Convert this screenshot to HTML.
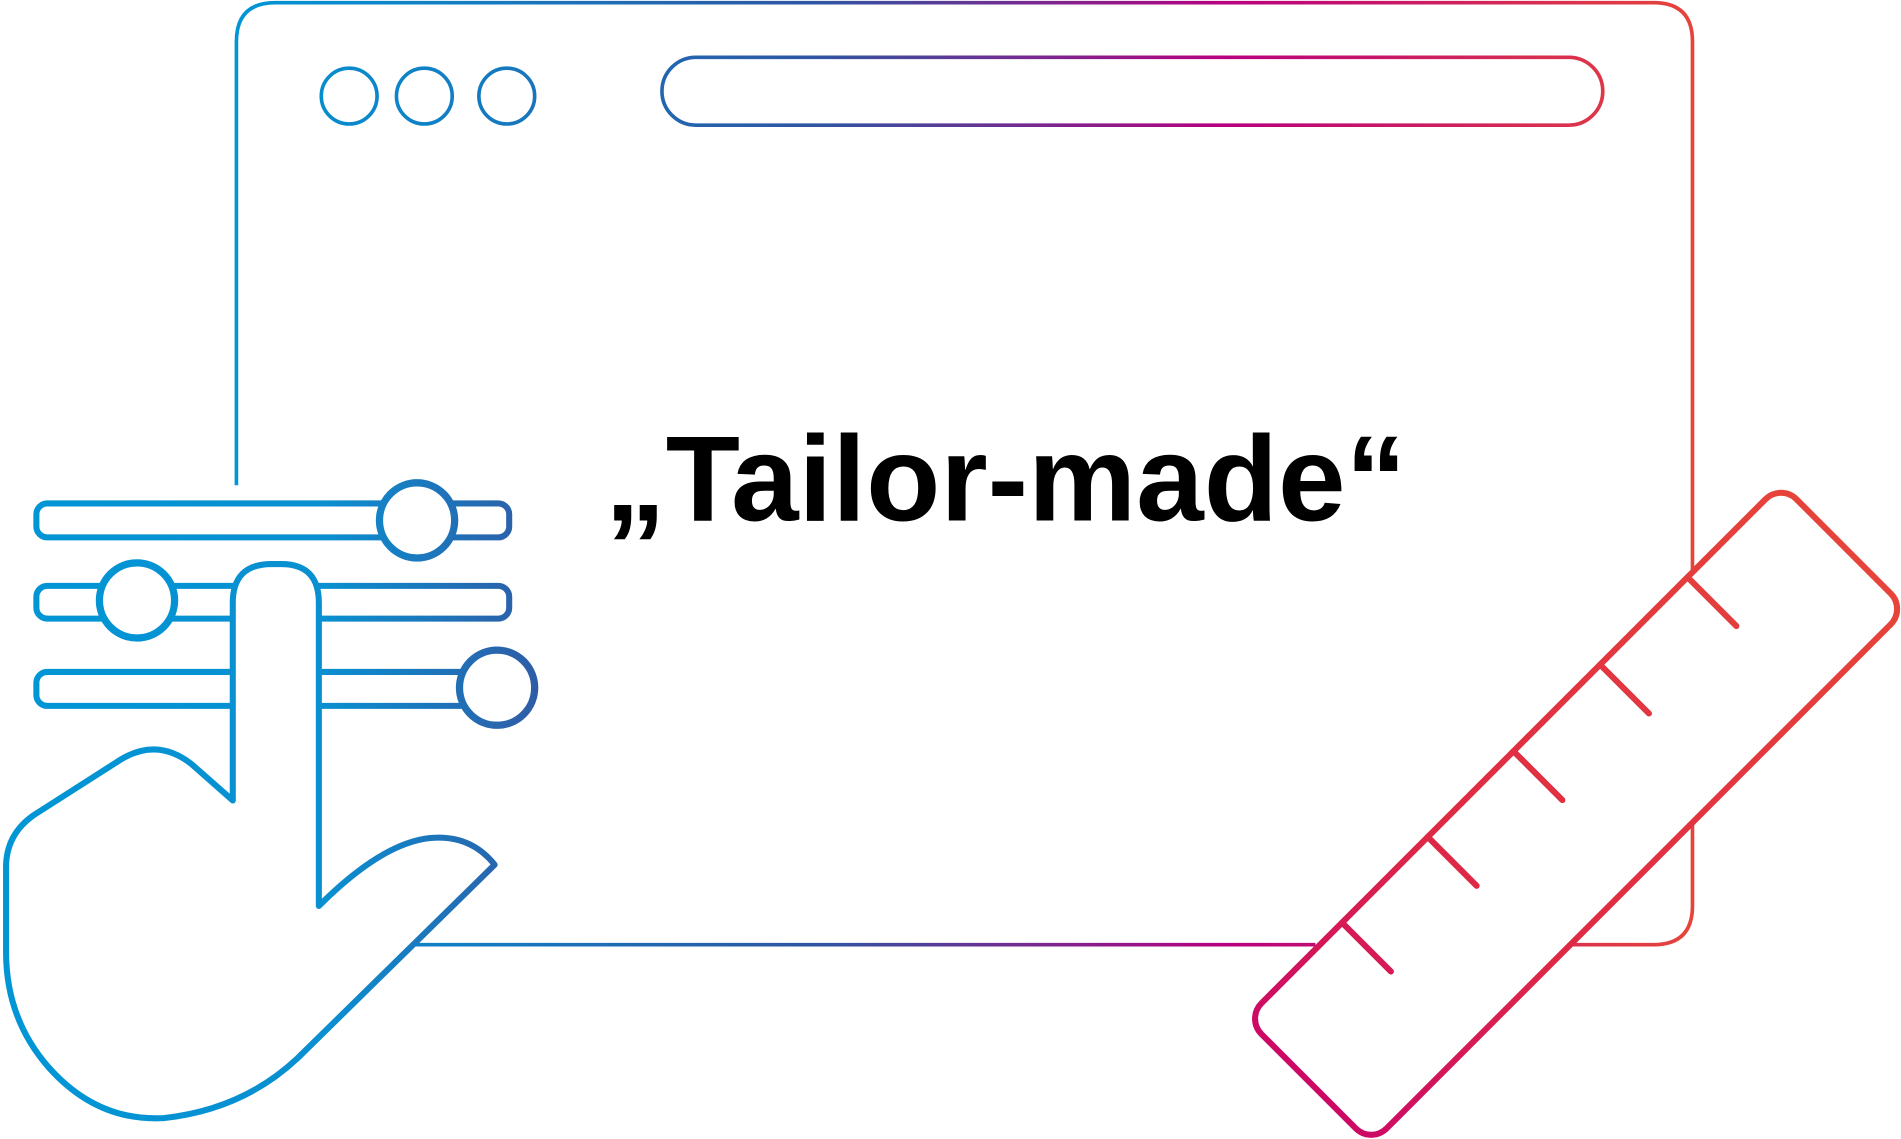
<!DOCTYPE html>
<html><head><meta charset="utf-8"><style>
html,body{margin:0;padding:0;background:#fff;}
svg{display:block;}
</style></head><body>
<svg width="1901" height="1139" viewBox="0 0 1568 939" xmlns="http://www.w3.org/2000/svg">
<defs>
<linearGradient id="g1" gradientUnits="userSpaceOnUse" x1="195" y1="0" x2="1396" y2="0">
<stop offset="0" stop-color="#0096d6"/><stop offset="0.4" stop-color="#2f55a2"/><stop offset="0.68" stop-color="#b8007f"/><stop offset="1" stop-color="#e6443a"/>
</linearGradient>
<linearGradient id="g2" gradientUnits="userSpaceOnUse" x1="5" y1="0" x2="445" y2="0">
<stop offset="0" stop-color="#0096d6"/><stop offset="0.6" stop-color="#0a8fd0"/><stop offset="1" stop-color="#2f5ca6"/>
</linearGradient>
<linearGradient id="g3" gradientUnits="userSpaceOnUse" x1="-312" y1="0" x2="312" y2="0">
<stop offset="0" stop-color="#cc0a66"/><stop offset="0.35" stop-color="#de2a45"/><stop offset="1" stop-color="#e6443a"/>
</linearGradient>
</defs>
<g fill="none" stroke="url(#g1)" stroke-width="3">
<path d="M195,400 V34 Q195,2 227,2 H1364 Q1396,2 1396,34 V470 M1396,680 V747 Q1396,779 1364,779 H1297 M1085,779 H343"/>
<circle cx="288" cy="79" r="23"/><circle cx="350" cy="79" r="23"/><circle cx="418" cy="79" r="23"/>
<rect x="546" y="47" width="776" height="56" rx="28"/>
</g>
<text x="499" y="429" font-family="Liberation Sans, sans-serif" font-weight="bold" font-size="100" textLength="661" lengthAdjust="spacingAndGlyphs" fill="#000">„Tailor-made“</text>
<g stroke="url(#g2)" stroke-width="5" fill="#fff" stroke-linejoin="round" stroke-linecap="round">
<rect x="30" y="415" width="390" height="28" rx="9"/>
<circle cx="344" cy="429" r="31" stroke-width="6"/>
<rect x="30" y="483" width="390" height="27" rx="9"/>
<rect x="30" y="554" width="380" height="28" rx="9"/>
<circle cx="410" cy="567" r="31" stroke-width="6"/>
<circle cx="113" cy="495" r="31" stroke-width="6"/>
<path d="M192,660 V497 Q192,465 224,465 H232 Q263,465 263,497 V747 Q315,695 355,691 Q388,688 408,713 L245,873 Q200,915 135,922 Q80,925 40,880 Q5,840 5,785 V715 Q5,688 28,672 L100,626 Q130,608 158,630 Z"/>
</g>
<g transform="translate(1300,671) rotate(-45)" stroke="url(#g3)" stroke-width="5" fill="#fff" stroke-linecap="round">
<rect x="-312" y="-73" width="624" height="146" rx="18"/>
<path d="M203,-73 V-16 M101,-73 V-16 M0,-73 V-16 M-100,-73 V-16 M-200,-73 V-16" fill="none"/>
</g>
</svg>
</body></html>
